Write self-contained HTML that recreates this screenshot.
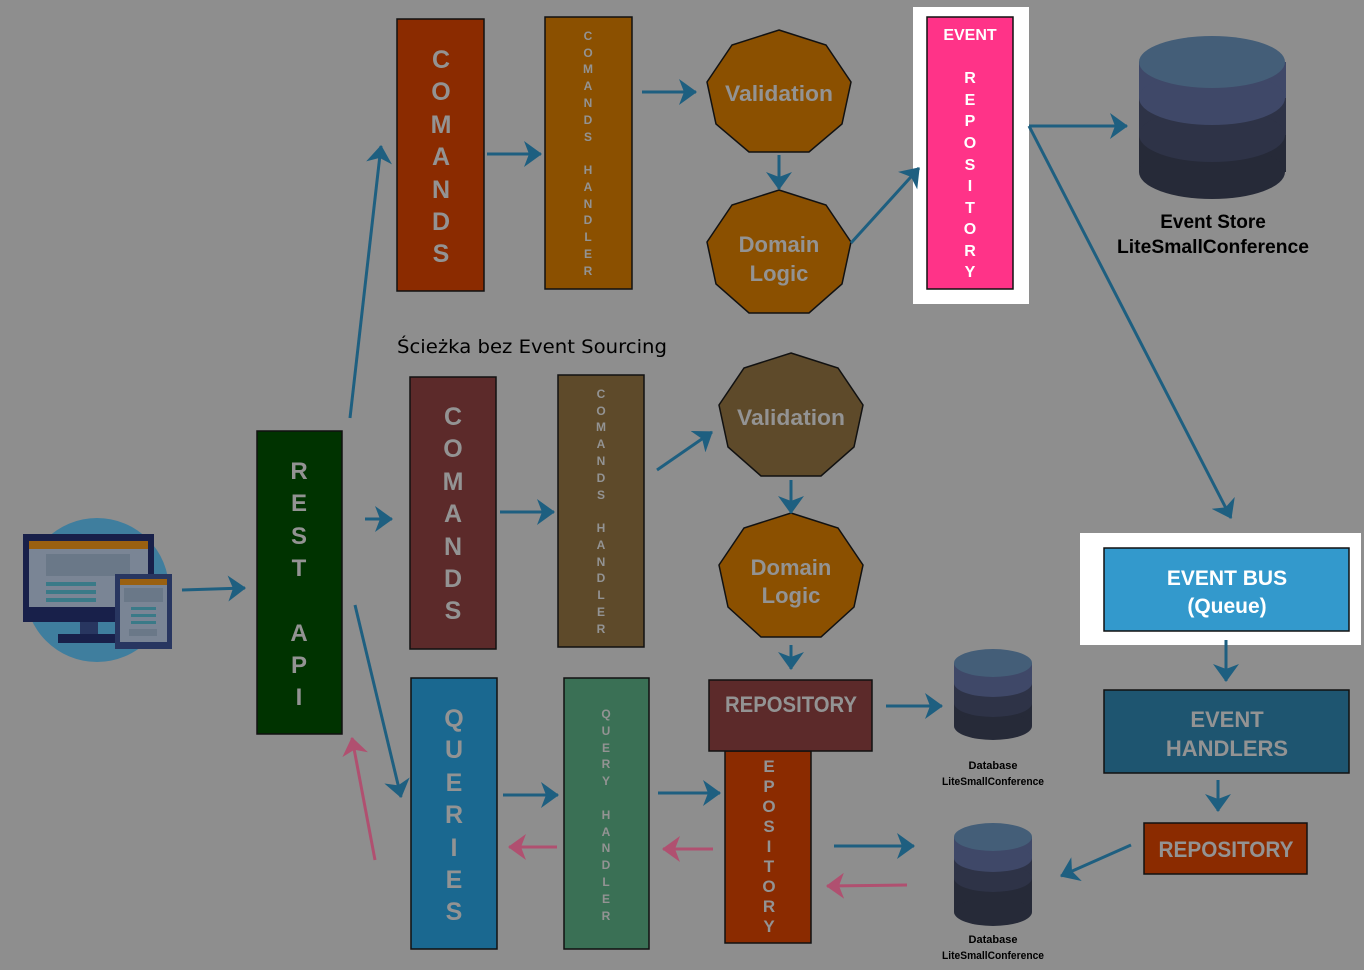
<!DOCTYPE html>
<html><head><meta charset="utf-8"><style>
html,body{margin:0;padding:0;background:#8e8e8e;}
svg{display:block;font-family:"Liberation Sans",sans-serif;}
.g{fill:#939393;font-weight:bold;text-anchor:middle;}
.a{stroke:#1e5f80;stroke-width:3;fill:none;marker-end:url(#ab);}
.p{stroke:#b05070;stroke-width:3;fill:none;marker-end:url(#ap);}
.bx{stroke:#111;stroke-width:1.5;}
.nn{stroke:#111;stroke-width:1.5;}
</style></head><body>
<svg width="1364" height="970" viewBox="0 0 1364 970" xmlns="http://www.w3.org/2000/svg">
<defs>
<marker id="ab" markerWidth="18" markerHeight="26" refX="17" refY="13" orient="auto" markerUnits="userSpaceOnUse" viewBox="0 0 18 26"><path d="M0,0 L18,13 L0,26 L5,13z" fill="#1e5f80"/></marker>
<marker id="ap" markerWidth="18" markerHeight="26" refX="17" refY="13" orient="auto" markerUnits="userSpaceOnUse" viewBox="0 0 18 26"><path d="M0,0 L18,13 L0,26 L5,13z" fill="#b05070"/></marker>
</defs>
<rect width="1364" height="970" fill="#8e8e8e"/>

<!-- client icon -->
<circle cx="97" cy="590" r="72" fill="#3f7e9e"/>
<rect x="23" y="534" width="131" height="88" fill="#18204a"/>
<rect x="29" y="541" width="119" height="66" fill="#7a8595"/>
<rect x="29" y="541" width="119" height="8" fill="#9a6010"/>
<rect x="46" y="554" width="84" height="22" fill="#6a7888"/>
<rect x="46" y="582" width="50" height="4" fill="#3a7a88"/>
<rect x="46" y="590" width="50" height="4" fill="#3a7a88"/>
<rect x="46" y="598" width="50" height="4" fill="#3a7a88"/>
<rect x="80" y="622" width="18" height="14" fill="#283660"/>
<rect x="58" y="634" width="62" height="9" fill="#18204a"/>
<rect x="115" y="574" width="57" height="75" fill="#283660"/>
<rect x="120" y="579" width="47" height="63" fill="#7a8595"/>
<rect x="120" y="579" width="47" height="6" fill="#9a6010"/>
<rect x="124" y="588" width="39" height="14" fill="#6a7888"/>
<rect x="131" y="607" width="25" height="3" fill="#3a7a88"/>
<rect x="131" y="614" width="25" height="3" fill="#3a7a88"/>
<rect x="131" y="621" width="25" height="3" fill="#3a7a88"/>
<rect x="129" y="629" width="28" height="7" fill="#6a7888"/>

<!-- REST API -->
<rect class="bx" x="257" y="431" width="85" height="303" fill="#003300"/>
<text class="g" font-size="24"><tspan x="299" y="479">R</tspan><tspan x="299" y="511">E</tspan><tspan x="299" y="544">S</tspan><tspan x="299" y="576">T</tspan><tspan x="299" y="641">A</tspan><tspan x="299" y="673">P</tspan><tspan x="299" y="705">I</tspan></text>

<!-- top commands -->
<rect class="bx" x="397" y="19" width="87" height="272" fill="#8b2b00"/>
<text class="g" font-size="25"><tspan x="441" y="68">C</tspan><tspan x="441" y="100">O</tspan><tspan x="441" y="133">M</tspan><tspan x="441" y="165">A</tspan><tspan x="441" y="198">N</tspan><tspan x="441" y="230">D</tspan><tspan x="441" y="262">S</tspan></text>
<rect class="bx" x="545" y="17" width="87" height="272" fill="#8b5000"/>
<text class="g" font-size="12"><tspan x="588" y="40">C</tspan><tspan x="588" y="57">O</tspan><tspan x="588" y="73">M</tspan><tspan x="588" y="90">A</tspan><tspan x="588" y="107">N</tspan><tspan x="588" y="124">D</tspan><tspan x="588" y="141">S</tspan><tspan x="588" y="174">H</tspan><tspan x="588" y="191">A</tspan><tspan x="588" y="208">N</tspan><tspan x="588" y="224">D</tspan><tspan x="588" y="241">L</tspan><tspan x="588" y="258">E</tspan><tspan x="588" y="275">R</tspan></text>

<polygon class="nn" fill="#8b5000" points="779,30 826,45 851,82 842,124 809,152 749,152 716,124 707,82 732,45"/>
<text class="g" font-size="22" x="779" y="101" textLength="108" lengthAdjust="spacingAndGlyphs">Validation</text>
<polygon class="nn" fill="#8b5000" points="779,190 826,205 851,242 842,284 809,313 749,313 716,284 707,242 732,205"/>
<text class="g" font-size="22"><tspan x="779" y="252">Domain</tspan><tspan x="779" y="281">Logic</tspan></text>

<!-- event repository -->
<rect x="913" y="7" width="116" height="297" fill="#fff"/>
<rect class="bx" x="927" y="17" width="86" height="272" fill="#ff3388"/>
<text font-size="16" font-weight="bold" fill="#fff" text-anchor="middle"><tspan x="970" y="40">EVENT</tspan><tspan x="970" y="83">R</tspan><tspan x="970" y="105">E</tspan><tspan x="970" y="126">P</tspan><tspan x="970" y="148">O</tspan><tspan x="970" y="170">S</tspan><tspan x="970" y="191">I</tspan><tspan x="970" y="213">T</tspan><tspan x="970" y="234">O</tspan><tspan x="970" y="256">R</tspan><tspan x="970" y="277">Y</tspan></text>

<!-- event store cylinder -->
<rect x="1139" y="135" width="147" height="37" fill="#262a38"/><ellipse cx="1212" cy="172" rx="73" ry="27" fill="#262a38"/>
<rect x="1139" y="98" width="147" height="37" fill="#2e3347"/><ellipse cx="1212" cy="135" rx="73" ry="27" fill="#2e3347"/>
<rect x="1139" y="62" width="147" height="36" fill="#3f4868"/><ellipse cx="1212" cy="98" rx="73" ry="27" fill="#3f4868"/>
<ellipse cx="1212" cy="62" rx="73" ry="26" fill="#445e78"/>
<text font-size="19" font-weight="bold" fill="#000" text-anchor="middle"><tspan x="1213" y="228">Event Store</tspan><tspan x="1213" y="253" textLength="192" lengthAdjust="spacingAndGlyphs">LiteSmallConference</tspan></text>

<text x="397" y="353" font-size="19" fill="#000" font-family="'DejaVu Sans',sans-serif" textLength="270" lengthAdjust="spacingAndGlyphs">Ścieżka bez Event Sourcing</text>

<!-- middle commands -->
<rect class="bx" x="410" y="377" width="86" height="272" fill="#5c2a2a"/>
<text class="g" font-size="25"><tspan x="453" y="425">C</tspan><tspan x="453" y="457">O</tspan><tspan x="453" y="490">M</tspan><tspan x="453" y="522">A</tspan><tspan x="453" y="555">N</tspan><tspan x="453" y="587">D</tspan><tspan x="453" y="619">S</tspan></text>
<rect class="bx" x="558" y="375" width="86" height="272" fill="#5e4a2a"/>
<text class="g" font-size="12"><tspan x="601" y="398">C</tspan><tspan x="601" y="415">O</tspan><tspan x="601" y="431">M</tspan><tspan x="601" y="448">A</tspan><tspan x="601" y="465">N</tspan><tspan x="601" y="482">D</tspan><tspan x="601" y="499">S</tspan><tspan x="601" y="532">H</tspan><tspan x="601" y="549">A</tspan><tspan x="601" y="566">N</tspan><tspan x="601" y="582">D</tspan><tspan x="601" y="599">L</tspan><tspan x="601" y="616">E</tspan><tspan x="601" y="633">R</tspan></text>
<polygon class="nn" fill="#5e4a2a" points="791,353 838,368 863,405 854,447 821,476 761,476 728,447 719,405 744,368"/>
<text class="g" font-size="22" x="791" y="425" textLength="108" lengthAdjust="spacingAndGlyphs">Validation</text>
<polygon class="nn" fill="#8b5000" points="791,513 838,528 863,565 854,607 821,637 761,637 728,607 719,565 744,528"/>
<text class="g" font-size="22"><tspan x="791" y="575">Domain</tspan><tspan x="791" y="603">Logic</tspan></text>

<!-- repository -->
<rect class="bx" x="725" y="751" width="86" height="192" fill="#8b2b00"/>
<text class="g" font-size="17"><tspan x="769" y="772">E</tspan><tspan x="769" y="792">P</tspan><tspan x="769" y="812">O</tspan><tspan x="769" y="832">S</tspan><tspan x="769" y="852">I</tspan><tspan x="769" y="872">T</tspan><tspan x="769" y="892">O</tspan><tspan x="769" y="912">R</tspan><tspan x="769" y="932">Y</tspan></text>
<rect class="bx" x="709" y="680" width="163" height="71" fill="#5c2a2a"/>
<text class="g" font-size="22" x="791" y="712" textLength="132" lengthAdjust="spacingAndGlyphs">REPOSITORY</text>

<!-- queries -->
<rect class="bx" x="411" y="678" width="86" height="271" fill="#1a6890"/>
<text class="g" font-size="25"><tspan x="454" y="727">Q</tspan><tspan x="454" y="758">U</tspan><tspan x="454" y="791">E</tspan><tspan x="454" y="823">R</tspan><tspan x="454" y="856">I</tspan><tspan x="454" y="888">E</tspan><tspan x="454" y="920">S</tspan></text>
<rect class="bx" x="564" y="678" width="85" height="271" fill="#3a7055"/>
<text class="g" font-size="12"><tspan x="606" y="718">Q</tspan><tspan x="606" y="735">U</tspan><tspan x="606" y="752">E</tspan><tspan x="606" y="768">R</tspan><tspan x="606" y="785">Y</tspan><tspan x="606" y="819">H</tspan><tspan x="606" y="836">A</tspan><tspan x="606" y="852">N</tspan><tspan x="606" y="869">D</tspan><tspan x="606" y="886">L</tspan><tspan x="606" y="903">E</tspan><tspan x="606" y="920">R</tspan></text>

<!-- DB 1 -->
<rect x="954" y="700" width="78" height="26" fill="#262a38"/><ellipse cx="993" cy="726" rx="39" ry="14" fill="#262a38"/>
<rect x="954" y="683" width="78" height="20" fill="#2e3347"/><ellipse cx="993" cy="703" rx="39" ry="14" fill="#2e3347"/>
<rect x="954" y="663" width="78" height="20" fill="#3f4868"/><ellipse cx="993" cy="683" rx="39" ry="14" fill="#3f4868"/>
<ellipse cx="993" cy="663" rx="39" ry="14" fill="#445e78"/>
<text font-size="11" font-weight="bold" fill="#000" text-anchor="middle"><tspan x="993" y="769">Database</tspan><tspan x="993" y="785" textLength="102" lengthAdjust="spacingAndGlyphs">LiteSmallConference</tspan></text>
<!-- DB 2 -->
<rect x="954" y="876" width="78" height="36" fill="#262a38"/><ellipse cx="993" cy="912" rx="39" ry="14" fill="#262a38"/>
<rect x="954" y="858" width="78" height="20" fill="#2e3347"/><ellipse cx="993" cy="878" rx="39" ry="14" fill="#2e3347"/>
<rect x="954" y="837" width="78" height="21" fill="#3f4868"/><ellipse cx="993" cy="858" rx="39" ry="14" fill="#3f4868"/>
<ellipse cx="993" cy="837" rx="39" ry="14" fill="#445e78"/>
<text font-size="11" font-weight="bold" fill="#000" text-anchor="middle"><tspan x="993" y="943">Database</tspan><tspan x="993" y="959" textLength="102" lengthAdjust="spacingAndGlyphs">LiteSmallConference</tspan></text>

<!-- event bus etc -->
<rect x="1080" y="533" width="281" height="112" fill="#fff"/>
<rect class="bx" x="1104" y="548" width="245" height="83" fill="#3399cc"/>
<text font-size="21" font-weight="bold" fill="#fff" text-anchor="middle"><tspan x="1227" y="585">EVENT BUS</tspan><tspan x="1227" y="613">(Queue)</tspan></text>
<rect class="bx" x="1104" y="690" width="245" height="83" fill="#1e5570"/>
<text class="g" font-size="22"><tspan x="1227" y="727">EVENT</tspan><tspan x="1227" y="756">HANDLERS</tspan></text>
<rect class="bx" x="1144" y="823" width="163" height="51" fill="#8b2b00"/>
<text class="g" font-size="22" x="1226" y="857" textLength="135" lengthAdjust="spacingAndGlyphs">REPOSITORY</text>

<!-- arrows -->
<g>
<path class="a" d="M182,590 L245,588"/>
<path class="a" d="M350,418 L381,146"/>
<path class="a" d="M365,519 L392,519"/>
<path class="a" d="M355,605 L401,797"/>
<path class="p" d="M375,860 L352,738"/>
<path class="a" d="M487,154 L541,154"/>
<path class="a" d="M642,92 L696,92"/>
<path class="a" d="M779,155 L779,189"/>
<path class="a" d="M851,243 L919,168"/>
<path class="a" d="M1029,126 L1127,126"/>
<path class="a" d="M1029,126 L1231,518"/>
<path class="a" d="M657,470 L712,432"/>
<path class="a" d="M500,512 L554,512"/>
<path class="a" d="M791,480 L791,513"/>
<path class="a" d="M791,645 L791,669"/>
<path class="a" d="M886,706 L942,706"/>
<path class="a" d="M503,795 L558,795"/>
<path class="a" d="M658,793 L720,793"/>
<path class="p" d="M557,847 L509,847"/>
<path class="p" d="M713,849 L663,849"/>
<path class="a" d="M834,846 L914,846"/>
<path class="p" d="M907,885 L827,886"/>
<path class="a" d="M1226,640 L1226,681"/>
<path class="a" d="M1218,780 L1218,811"/>
<path class="a" d="M1131,845 L1061,876"/>
</g>
</svg>
</body></html>
